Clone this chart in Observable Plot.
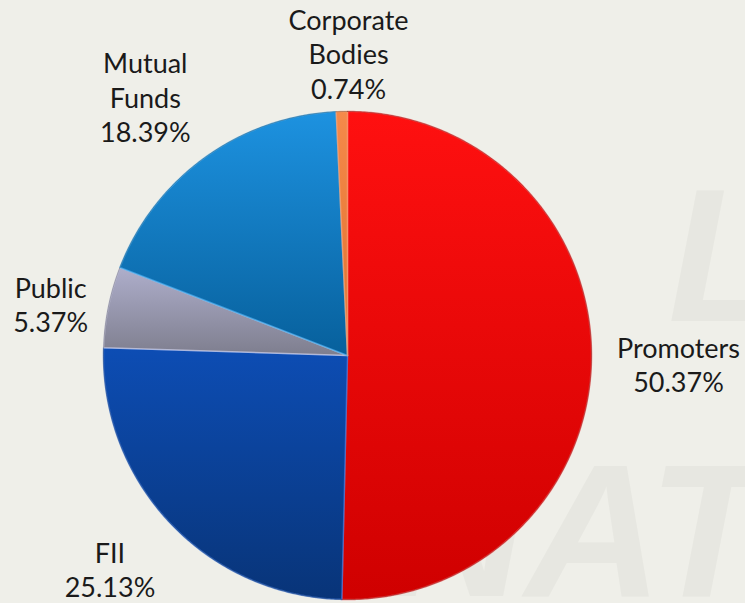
<!DOCTYPE html>
<html>
<head>
<meta charset="utf-8">
<script src="https://cdn.jsdelivr.net/npm/d3@7"></script>
<script src="https://cdn.jsdelivr.net/npm/@observablehq/plot@0.6"></script>
<style>
  html, body { margin: 0; padding: 0; }
  body { width: 745px; height: 603px; overflow: hidden; background: #efefe9; position: relative; font-family: Lato, "Open Sans", sans-serif; }
  .wm { position: absolute; font-family: "Liberation Sans", sans-serif; font-weight: bold; font-style: italic; font-size: 190px; color: #e7e7e1; line-height: 0.75; white-space: nowrap; }
  #chart { position: absolute; left: 0; top: 0; }
</style>
</head>
<body>
<div class="wm" style="left:668px; top:184px;">L</div>
<div class="wm" style="left:388px; top:459px;">NAT</div>
<div id="chart"></div>
<script>
// Data
const categories = ["Promoters", "FII", "Public", "Mutual Funds", "Corporate Bodies"];
const shares = [50.37, 25.13, 5.37, 18.39, 0.74];
const labels = ["Promoters\n50.37%", "FII\n25.13%", "Public\n5.37%", "Mutual\nFunds\n18.39%", "Corporate\nBodies\n0.74%"];

// gradient colours (top, bottom)
const grads = [
  ["#ff1010", "#cf0000"],
  ["#0d4db4", "#083478"],
  ["#aeaecb", "#7e7e8e"],
  ["#1d92e0", "#07609c"],
  ["#f58a4a", "#e0702e"]
];
const rim = ["#ff4a4a", "#3a78e0", "#d0d0e8", "#4aaef0", "#f8a070"];

const total = d3.sum(shares);
let acc = 0;
const slices = categories.map((name, i) => {
  const a0 = acc / total * 2 * Math.PI;
  acc += shares[i];
  const a1 = acc / total * 2 * Math.PI;
  const n = Math.max(2, Math.ceil((a1 - a0) / (Math.PI / 360)));
  const pts = [{x: 0, y: 0}];
  for (let k = 0; k <= n; k++) {
    const a = a0 + (a1 - a0) * k / n;
    pts.push({x: Math.sin(a), y: Math.cos(a)});
  }
  pts.push({x: 0, y: 0});
  return {name, i, a0, a1, mid: (a0 + a1) / 2, pts};
});

// label placement in polar form: [angle (deg, clockwise from top), radius]
const labelPolar = {
  "Promoters": [91.5, 1.357],
  "FII": [228, 1.31],
  "Public": [279.9, 1.235],
  "Mutual Funds": [322, 1.346],
  "Corporate Bodies": [0.2, 1.238]
};
const labelData = slices.map(s => {
  const [deg, r] = labelPolar[s.name];
  const a = deg * Math.PI / 180;
  return {x: Math.sin(a) * r, y: Math.cos(a) * r, text: labels[s.i]};
});

const chart = Plot.plot({
  width: 745,
  height: 603,
  margin: 0,
  style: {background: "transparent", overflow: "visible"},
  x: {domain: [-1.4221, 1.6311], axis: null},
  y: {domain: [-1.0164, 1.4549], axis: null},
  marks: [
    ...slices.map(s => Plot.line(s.pts, {
      x: "x", y: "y",
      fill: `url(#g${s.i})`,
      stroke: rim[s.i],
      strokeWidth: 1.5,
      strokeOpacity: 0.7,
      strokeLinejoin: "round"
    })),
    Plot.line(slices.flatMap(s => s.pts.slice(1, -1)), {
      x: "x", y: "y", stroke: "#000", strokeOpacity: 0.25, strokeWidth: 1
    }),
    Plot.text(labelData, {
      x: "x", y: "y", text: "text",
      fontSize: 27,
      lineHeight: 1.27,
      fill: "#1a1a1a",
      fontFamily: "Lato, 'Open Sans', sans-serif",
      textAnchor: "middle",
      lineAnchor: "middle"
    })
  ]
});

const svg = d3.select(chart);
const defs = svg.insert("defs", ":first-child");
grads.forEach((g, i) => {
  const lg = defs.append("linearGradient").attr("id", `g${i}`).attr("x1", 0).attr("y1", 0).attr("x2", 0).attr("y2", 1);
  lg.append("stop").attr("offset", "0%").attr("stop-color", g[0]);
  lg.append("stop").attr("offset", "100%").attr("stop-color", g[1]);
});
document.getElementById("chart").appendChild(chart);
</script>
</body>
</html>
